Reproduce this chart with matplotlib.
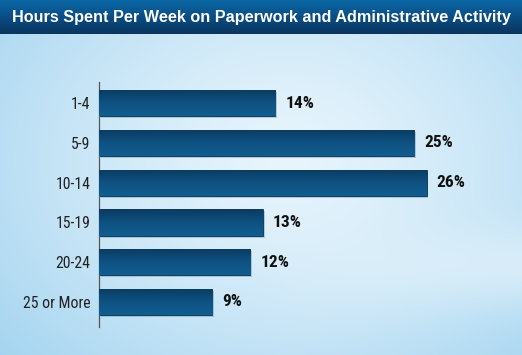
import numpy as np
import matplotlib
matplotlib.use("Agg")
import matplotlib.pyplot as plt
from matplotlib.colors import LinearSegmentedColormap

# data
categories = ["1-4", "5-9", "10-14", "15-19", "20-24", "25 or More"]
values = [14, 25, 26, 13, 12, 9]
value_labels = ["14%", "25%", "26%", "13%", "12%", "9%"]
title = "Hours Spent Per Week on Paperwork and Administrative Activity"

W, H = 522, 355
NARROW = ["Liberation Sans Narrow", "Roboto Condensed", "DejaVu Sans"]

fig = plt.figure(figsize=(W / 100, H / 100), dpi=100)

# ── background gradient ────────────────────────────────────────────────
bg = fig.add_axes([0, 0, 1, 1])
bg.set_axis_off()
yy, xx = np.mgrid[0:1:200j, 0:1:300j]
d = np.sqrt(((xx - 0.55) / 0.75) ** 2 + ((yy - 0.45) / 0.85) ** 2)
t = np.clip(d, 0, 1) ** 1.3
c_in = np.array([0.91, 0.96, 0.99])
c_out = np.array([0.64, 0.83, 0.94])
img = c_in[None, None, :] * (1 - t[..., None]) + c_out[None, None, :] * t[..., None]
# faint light swoosh bottom right
sw = np.exp(-((yy - (0.75 + 0.25 * (1 - xx) ** 2)) / 0.12) ** 2) * np.clip((xx - 0.5) * 2, 0, 1)
img = img + (1 - img) * 0.4 * sw[..., None]
bg.imshow(img, extent=[0, 1, 0, 1], aspect="auto", origin="upper")

# title bar
tb_h = 34 / H
tcm = LinearSegmentedColormap.from_list("tb", ["#0a67a6", "#0b4d84", "#0a3560"])
bg.imshow(np.linspace(0, 1, 50)[:, None], extent=[0, 1, 1 - tb_h, 1],
          aspect="auto", cmap=tcm, origin="upper")
bg.set_xlim(0, 1)
bg.set_ylim(0, 1)
bg.text(0.5, 1 - tb_h / 2 - 0.002, title, color="white", fontsize=11.7,
        fontweight="bold", ha="center", va="center",
        family=["Liberation Sans", "DejaVu Sans"])

# ── chart axes ───────────────────────────────────────────────────────────
x0, top, bot = 99, 82, 327
px_per_unit = 12.6
ax = fig.add_axes([x0 / W, (H - bot) / H, (W - x0) / W, (bot - top) / H])
ax.patch.set_alpha(0)

y = np.arange(len(categories))
bh = 0.66
# shadows
ax.barh(y + 0.05, values, height=bh, left=0.15, color="#5a7f99", alpha=0.35, zorder=1)
bars = ax.barh(y, values, height=bh, color="#0d4d7a", edgecolor="#0a3355",
               linewidth=0.6, zorder=2)
bcm = LinearSegmentedColormap.from_list("bar", ["#0b3b60", "#0e5283", "#115d8e"])
for b in bars:
    bx, by, bw, bhh = b.get_x(), b.get_y(), b.get_width(), b.get_height()
    im = ax.imshow(np.linspace(0, 1, 30)[:, None], extent=[bx, bx + bw, by + bhh, by],
                   aspect="auto", cmap=bcm, zorder=3, origin="upper")
    im.set_clip_path(b)

for yi, v, lab in zip(y, values, value_labels):
    ax.text(v + 0.8, yi, lab, ha="left", va="center", fontsize=12.5,
            fontweight="bold", color="#111111", family=NARROW, zorder=4)

ax.set_yticks(y)
ax.set_yticklabels(categories, fontsize=11.3, color="#222222", family=NARROW)
ax.tick_params(axis="y", length=0, pad=6)
ax.set_xticks([])
for s in ["top", "right", "bottom"]:
    ax.spines[s].set_visible(False)
ax.spines["left"].set_color("#555555")
ax.spines["left"].set_linewidth(0.9)
ax.set_aspect("auto")
ax.set_xlim(0, (W - x0) / px_per_unit)
ax.set_ylim(5.63, -0.53)

fig.savefig("out.png", dpi=100)
